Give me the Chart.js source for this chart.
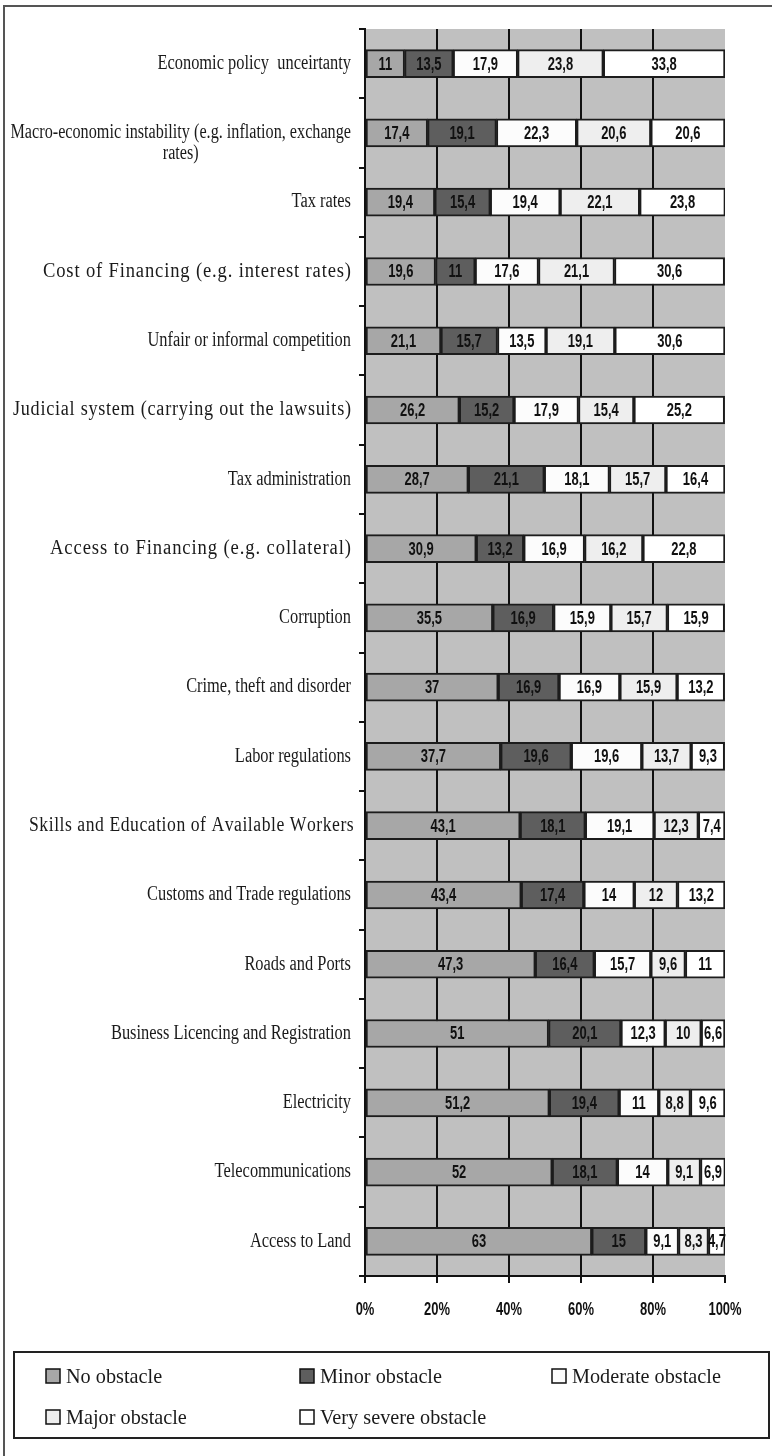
<!DOCTYPE html>
<html>
<head>
<meta charset="utf-8">
<script src="https://cdn.jsdelivr.net/npm/chart.js@4"></script>
<style>
  html, body { margin: 0; padding: 0; background: #fff; }
  body { width: 772px; height: 1456px; position: relative; overflow: hidden; }
  #frame { position: absolute; left: 3px; top: 5px; width: 775px; height: 1460px;
           border-left: 2px solid #555; border-top: 2px solid #555; }
  #wrap { position: absolute; left: 0; top: 0; width: 772px; height: 1456px; }
</style>
</head>
<body>
<div id="frame"></div>
<div id="wrap"><canvas id="myChart"></canvas></div>
<script>
// 데이터
const categories = [
    'Economic policy  unceirtanty',
    ['Macro-economic instability (e.g. inflation, exchange', 'rates)'],
    'Tax rates',
    'Cost of Financing (e.g. interest rates)',
    'Unfair or informal competition',
    'Judicial system (carrying out the lawsuits)',
    'Tax administration',
    'Access to Financing (e.g. collateral)',
    'Corruption',
    'Crime, theft and disorder',
    'Labor regulations',
    'Skills and Education of Available Workers',
    'Customs and Trade regulations',
    'Roads and Ports',
    'Business Licencing and Registration',
    'Electricity',
    'Telecommunications',
    'Access to Land'
];
const seriesNames = ['No obstacle', 'Minor obstacle', 'Moderate obstacle', 'Major obstacle', 'Very severe obstacle'];
const noObstacle = [11, 17.4, 19.4, 19.6, 21.1, 26.2, 28.7, 30.9, 35.5, 37, 37.7, 43.1, 43.4, 47.3, 51, 51.2, 52, 63];
const minorObstacle = [13.5, 19.1, 15.4, 11, 15.7, 15.2, 21.1, 13.2, 16.9, 16.9, 19.6, 18.1, 17.4, 16.4, 20.1, 19.4, 18.1, 15];
const moderateObstacle = [17.9, 22.3, 19.4, 17.6, 13.5, 17.9, 18.1, 16.9, 15.9, 16.9, 19.6, 19.1, 14, 15.7, 12.3, 11, 14, 9.1];
const majorObstacle = [23.8, 20.6, 22.1, 21.1, 19.1, 15.4, 15.7, 16.2, 15.7, 15.9, 13.7, 12.3, 12, 9.6, 10, 8.8, 9.1, 8.3];
const verySevereObstacle = [33.8, 20.6, 23.8, 30.6, 30.6, 25.2, 16.4, 22.8, 15.9, 13.2, 9.3, 7.4, 13.2, 11, 6.6, 9.6, 6.9, 4.7];
const xTickValues = [0, 20, 40, 60, 80, 100];

const colors = ['#a7a7a7', '#5e5e5e', '#fcfcfc', '#eeeeee', '#ffffff'];
const allSeries = [noObstacle, minorObstacle, moderateObstacle, majorObstacle, verySevereObstacle];

// 원본 그림에서 몇몇 라벨은 더 넓게 찍혀 있음 (목표 폭, px)
const labelSpread = { 3: 308, 5: 338, 7: 301, 11: 322 };

// 글자를 가로로 눌러서 그림
function squeezeText(c, text, x, y, sx) {
    c.save();
    c.translate(x, y);
    c.scale(sx, 1);
    c.fillText(text, 0, 0);
    c.restore();
}

// 오른쪽 끝을 맞추고, 남는 폭의 반은 글자 늘리기, 반은 간격으로
function spreadText(c, text, right, y, sx, target) {
    const raw = c.measureText(text).width;
    const r = target / (raw * sx) - 1;
    const sx2 = sx * (1 + r / 2);
    const gap = (target - raw * sx2) / (text.length - 1);
    let x = right - target;
    c.save();
    c.textAlign = 'left';
    for (const ch of text) {
        squeezeText(c, ch, x, y, sx2);
        x += c.measureText(ch).width * sx2 + gap;
    }
    c.restore();
}

const plotBg = {
    id: 'plotBg',
    beforeDraw(chart) {
        const a = chart.chartArea, c = chart.ctx;
        c.save();
        c.fillStyle = '#c0c0c0';
        c.fillRect(a.left, a.top, a.right - a.left, a.bottom - a.top);
        c.restore();
    }
};

const textLayer = {
    id: 'textLayer',
    afterDatasetsDraw(chart) {
        const c = chart.ctx;
        // 막대 값
        c.save();
        c.font = 'bold 18px "Liberation Sans", Arial, sans-serif';
        c.fillStyle = '#111';
        c.textAlign = 'center';
        c.textBaseline = 'middle';
        chart.data.datasets.forEach((ds, di) => {
            chart.getDatasetMeta(di).data.forEach((bar, i) => {
                const v = ds.data[i];
                squeezeText(c, String(v).replace('.', ','), (bar.x + bar.base) / 2, bar.y + 1, 0.72);
            });
        });
        c.restore();

        // y축 라벨
        const ys = chart.scales.y;
        c.save();
        c.font = '20px "Liberation Serif", "Times New Roman", serif';
        c.fillStyle = '#1a1a1a';
        c.textBaseline = 'middle';
        const sx = 0.82;
        categories.forEach((lab, i) => {
            const y = ys.getPixelForValue(i);
            if (Array.isArray(lab)) {
                const w = Math.max(...lab.map(t => c.measureText(t).width)) * 0.81;
                c.textAlign = 'center';
                lab.forEach((t, k) => squeezeText(c, t, 351 - w / 2, y + k * 21, 0.81));
            } else if (labelSpread[i]) {
                spreadText(c, lab, 351, y, sx, labelSpread[i]);
            } else {
                c.textAlign = 'right';
                squeezeText(c, lab, 351, y, sx);
            }
        });
        c.restore();

        // x축 라벨
        const xs = chart.scales.x;
        c.save();
        c.font = 'bold 18px "Liberation Sans", Arial, sans-serif';
        c.fillStyle = '#111';
        c.textAlign = 'center';
        c.textBaseline = 'middle';
        xTickValues.forEach(v => {
            squeezeText(c, v + '%', xs.getPixelForValue(v), 1310, 0.72);
        });
        c.restore();
    },
    afterDraw(chart) {
        // 범례 상자
        const c = chart.ctx;
        const pos = [[46, 1376], [300, 1376], [552, 1376], [46, 1417], [300, 1417]];
        c.save();
        c.strokeStyle = '#222';
        c.lineWidth = 2;
        c.strokeRect(14, 1352, 755, 86);
        c.font = '22px "Liberation Serif", "Times New Roman", serif';
        c.textBaseline = 'middle';
        c.textAlign = 'left';
        seriesNames.forEach((name, i) => {
            const [x, y] = pos[i];
            c.fillStyle = colors[i];
            c.fillRect(x, y - 7, 14, 14);
            c.lineWidth = 1.5;
            c.strokeStyle = '#111';
            c.strokeRect(x, y - 7, 14, 14);
            c.fillStyle = '#1a1a1a';
            squeezeText(c, name, x + 20, y + 1, 0.92);
        });
        c.restore();
    }
};

const ctx = document.querySelector('#myChart');

new Chart(ctx, {
    type: 'bar',
    data: {
        labels: categories,
        datasets: seriesNames.map((name, i) => ({
            label: name,
            data: allSeries[i],
            backgroundColor: colors[i],
            borderColor: '#1c1c1c',
            borderWidth: 2,
            borderSkipped: false,
            barThickness: 28
        }))
    },
    options: {
        indexAxis: 'y',
        responsive: true,
        maintainAspectRatio: false,
        animation: false,
        layout: { padding: { top: 29, right: 47, left: 0, bottom: 116 } },
        plugins: {
            legend: { display: false },
            tooltip: { enabled: false }
        },
        scales: {
            x: {
                stacked: true,
                min: 0,
                max: 100,
                afterBuildTicks: (scale) => { scale.ticks = xTickValues.map(v => ({ value: v })); },
                ticks: { display: false },
                grid: {
                    color: (c) => (c.tick && c.tick.value > 0 && c.tick.value < 100) ? '#111' : 'rgba(0,0,0,0)',
                    lineWidth: 2,
                    tickColor: '#111',
                    tickLength: 7
                },
                border: { color: '#111', width: 2 },
                afterFit: (scale) => { scale.height = 64; }
            },
            y: {
                stacked: true,
                ticks: { display: false },
                grid: {
                    offset: true,
                    drawOnChartArea: false,
                    color: '#111',
                    lineWidth: 2,
                    tickLength: 6
                },
                border: { color: '#111', width: 2 },
                afterFit: (scale) => { scale.width = 365; }
            }
        }
    },
    plugins: [plotBg, textLayer]
});
</script>
</body>
</html>
